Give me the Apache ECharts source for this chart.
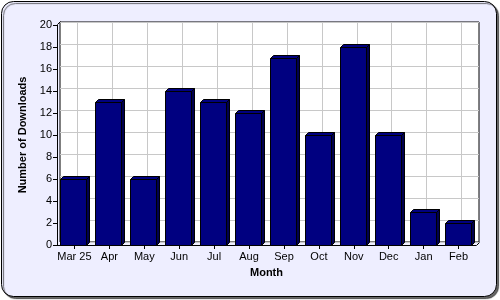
<!DOCTYPE html>
<html><head><meta charset="utf-8">
<script src="https://cdn.jsdelivr.net/npm/echarts@6/dist/echarts.min.js"></script>
<style>html,body{margin:0;padding:0;background:#fff}#c{width:500px;height:300px}</style>
</head><body><div id="c"></div>
<script>
const categories = ['Mar 25','Apr','May','Jun','Jul','Aug','Sep','Oct','Nov','Dec','Jan','Feb'];
const downloads = [6,13,6,14,13,12,17,10,18,10,3,2];
const yTicks = {min:0, max:20, interval:2};

const D = 3; // 3D depth
const font = 'Liberation Sans, Arial, sans-serif';
const chart = echarts.init(document.getElementById('c'), null, {renderer:'canvas'});
chart.setOption({
  animation:false,
  graphic:[
    {type:'rect', z:-10, shape:{x:1.5,y:1.5,width:495,height:295,r:12},
     style:{fill:'#EEEEFF', stroke:'#000', lineWidth:1, shadowColor:'rgba(0,0,0,0.6)', shadowOffsetX:2, shadowOffsetY:2, shadowBlur:1}},
    {type:'line', z:50, shape:{x1:57.5,y1:24.5,x2:60.5,y2:21.5}, style:{stroke:'#000'}},
    {type:'line', z:50, shape:{x1:476.5,y1:245.5,x2:479.5,y2:242.5}, style:{stroke:'#000'}}
  ],
  grid:[
    {left:60, top:22, right:21, bottom:58, show:true, backgroundColor:'#fff', borderColor:'#000', borderWidth:1},
    {left:57, top:25, right:24, bottom:55}
  ],
  xAxis:[
    {gridIndex:0, type:'category', data:categories, axisLine:{show:false}, axisTick:{show:false}, axisLabel:{show:false}, splitLine:{show:false}},
    {gridIndex:1, type:'category', data:categories, name:'Month', nameLocation:'middle', nameGap:22,
     nameTextStyle:{fontFamily:font, fontSize:11, fontWeight:'bold', color:'#000'},
     axisLine:{show:true, lineStyle:{color:'#000', width:1}},
     axisTick:{show:true, alignWithLabel:true, length:4, lineStyle:{color:'#000'}},
     axisLabel:{fontFamily:font, fontSize:11, color:'#000', margin:6, interval:0},
     splitLine:{show:false}}
  ],
  yAxis:[
    {gridIndex:0, type:'value', min:yTicks.min, max:yTicks.max, interval:yTicks.interval,
     axisLine:{show:false}, axisTick:{show:false}, axisLabel:{show:false},
     splitLine:{show:true, lineStyle:{color:'#C8C8C8', width:1}}},
    {gridIndex:1, type:'value', min:yTicks.min, max:yTicks.max, interval:yTicks.interval,
     name:'Number of Downloads', nameLocation:'middle', nameGap:24,
     nameTextStyle:{fontFamily:font, fontSize:11, fontWeight:'bold', color:'#000'},
     axisLine:{show:true, lineStyle:{color:'#000', width:1}},
     axisTick:{show:true, length:4, lineStyle:{color:'#000'}},
     axisLabel:{fontFamily:font, fontSize:11, color:'#000', margin:5},
     splitLine:{show:false}}
  ],
  series:[
    {type:'line', xAxisIndex:0, yAxisIndex:0, data:[], silent:true,
     markLine:{silent:true, symbol:'none', label:{show:false},
       lineStyle:{color:'#C8C8C8', type:'solid', width:1},
       data:categories.map(c=>({xAxis:c}))}},
    {type:'custom', xAxisIndex:1, yAxisIndex:1, z:10,
     data:downloads.map((v,i)=>[i,v]),
     renderItem:function(params, api){
       const top = api.coord([api.value(0), api.value(1)]);
       const base = api.coord([api.value(0), 0]);
       const band = Math.abs(api.coord([1,0])[0] - api.coord([0,0])[0]);
       const w = Math.round(band*0.74);
       const x0 = Math.round(top[0]-w/2)-0.5, x1 = x0 + w;
       const ty = Math.round(top[1])+0.5, by = Math.round(base[1])+0.5;
       return {type:'group', children:[
         {type:'polygon', shape:{points:[[x1,ty],[x1+D,ty-D],[x1+D,by-D],[x1,by]]}, style:{fill:'#000050', stroke:'#000', lineWidth:1}},
         {type:'polygon', shape:{points:[[x0,ty],[x0+D,ty-D],[x1+D,ty-D],[x1,ty]]}, style:{fill:'#000080', stroke:'#000', lineWidth:1}},
         {type:'rect', shape:{x:x0, y:ty, width:w, height:by-ty}, style:{fill:'#000080', stroke:'#000', lineWidth:1}}
       ]};
     }}
  ]
});
</script></body></html>
